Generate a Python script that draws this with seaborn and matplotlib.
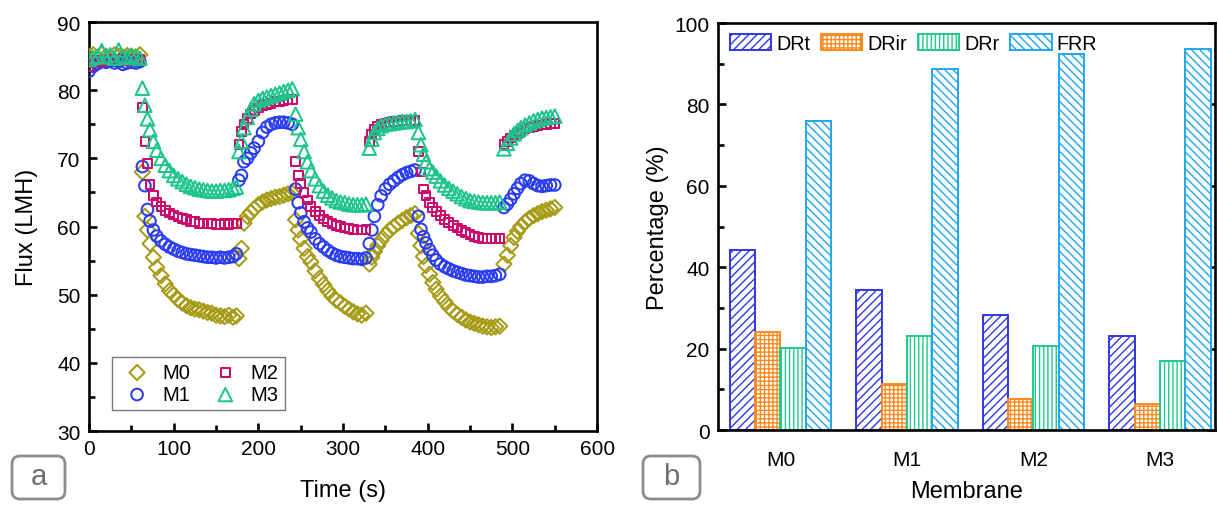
import matplotlib
matplotlib.use("Agg")
import matplotlib.pyplot as plt
from matplotlib.patches import FancyBboxPatch
from matplotlib.ticker import MultipleLocator
import numpy as np
import pandas as pd
import seaborn as sns

# ---------------- flux data (panel a) ----------------
time_s = [
    0, 5, 10, 15, 20, 25, 30, 35, 40, 45, 50, 55, 60,
    63, 66, 69, 72, 76, 80, 85, 90, 95, 100, 105, 110, 115, 120, 125, 130, 135, 140,
    145, 150, 155, 160, 165, 170, 174,
    177, 180, 183, 187, 191, 195, 200, 205, 210, 215, 220, 225, 230, 235, 240,
    244, 247, 250, 254, 258, 262, 267, 272, 277, 282, 287, 292, 297, 302, 307, 312,
    317, 322, 327,
    331, 334, 337, 341, 345, 350, 355, 360, 365, 370, 375, 380, 385,
    389, 392, 395, 398, 402, 406, 410, 415, 420, 425, 430, 435, 440, 445, 450, 455,
    460, 465, 470, 475, 480, 485,
    490, 494, 498, 502, 506, 510, 515, 520, 525, 530, 535, 540, 545, 550,
]

flux_m0 = [
    85.0, 85.2, 84.8, 85.3, 85.0, 84.9, 85.2, 85.0, 84.8, 85.1, 85.0, 84.9, 85.2,
    68.0, 61.5, 59.5, 57.5, 55.5, 54.0, 52.8, 51.6, 50.6, 50.0, 49.3, 48.8, 48.4, 48.1,
    47.9, 47.8, 47.6, 47.4, 47.3, 47.0, 46.9, 46.8, 47.0, 46.7, 46.9,
    55.3, 56.8, 60.5, 61.5, 62.1, 62.6, 63.2, 63.6, 63.9, 64.1, 64.3, 64.4, 64.6, 64.8, 64.9,
    61.0, 59.5, 58.2, 56.8, 55.6, 54.8, 53.5, 52.4, 51.5, 50.6, 49.8, 49.2, 48.8, 48.3,
    47.9, 47.5, 47.2, 47.0, 47.3,
    54.5, 55.5, 56.3, 57.2, 58.0, 58.8, 59.5, 60.0, 60.5, 60.9, 61.3, 61.6, 61.9,
    59.0, 57.2, 55.6, 54.3, 53.0, 51.8, 50.8, 49.8, 49.0, 48.2, 47.6, 47.1, 46.7, 46.3,
    46.0, 45.8, 45.6, 45.4, 45.3, 45.2, 45.3, 45.4,
    54.5, 55.8, 57.2, 58.4, 59.3, 60.0, 60.7, 61.2, 61.6, 61.9, 62.2, 62.4, 62.6, 62.8,
]

flux_m1 = [
    82.8, 83.5, 83.9, 84.2, 84.1, 84.3, 84.0, 84.2, 83.8, 84.0, 84.1, 84.0, 84.2,
    68.8, 66.0, 62.5, 60.8, 59.5, 58.6, 57.9, 57.4, 57.0, 56.7, 56.4, 56.2, 56.0, 55.9,
    55.8, 55.7, 55.6, 55.5, 55.5, 55.4, 55.5, 55.4, 55.5, 55.6, 56.0,
    66.8, 67.5, 69.5, 70.0, 70.8, 71.5, 72.5, 73.8, 74.6, 75.0, 75.2, 75.3, 75.3, 75.2, 75.0,
    65.5, 63.5, 62.0, 60.7, 59.8, 59.2, 58.2, 57.5, 57.0, 56.5, 56.1, 55.8, 55.6, 55.5,
    55.4, 55.3, 55.3, 55.2, 55.4,
    57.5, 59.5, 61.5, 63.2, 64.5, 65.5, 66.2, 66.7, 67.2, 67.6, 67.9, 68.1, 68.3,
    61.5, 59.6, 58.5, 57.6, 56.6, 55.8, 55.1, 54.5, 54.1, 53.8, 53.5, 53.3, 53.1, 52.9,
    52.8, 52.7, 52.6, 52.6, 52.7, 52.7, 52.8, 53.0,
    62.8, 63.3, 64.0, 64.8, 65.6, 66.3, 66.8, 66.7, 66.3, 66.0, 65.9, 66.0, 66.1, 66.1,
]

flux_m2 = [
    83.5, 84.0, 84.3, 84.2, 84.4, 84.5, 84.3, 84.4, 84.6, 84.4, 84.5, 84.3, 84.5,
    77.5, 72.5, 69.3, 66.2, 64.6, 63.6, 62.9, 62.4, 62.0, 61.7, 61.4, 61.2, 61.0, 60.8,
    60.7, 60.5, 60.5, 60.4, 60.4, 60.3, 60.3, 60.4, 60.3, 60.4, 60.5,
    72.0, 74.0, 75.0, 75.8, 76.5, 77.0, 77.4, 77.7, 77.9, 78.1, 78.3, 78.4, 78.5, 78.6, 78.6,
    69.5, 67.5, 66.3, 65.0, 63.9, 63.0, 62.2, 61.6, 61.1, 60.7, 60.4, 60.2, 60.0, 59.8,
    59.7, 59.6, 59.5, 59.5, 59.6,
    72.5, 73.5, 74.2, 74.7, 75.0, 75.2, 75.3, 75.4, 75.4, 75.5, 75.5, 75.6, 75.6,
    71.0, 68.0, 65.5, 64.5, 63.5, 62.8, 62.2, 61.6, 61.0, 60.6, 60.2, 59.8, 59.4, 59.1,
    58.8, 58.6, 58.4, 58.3, 58.2, 58.2, 58.2, 58.3,
    72.0, 72.5, 73.0, 73.4, 73.7, 74.0, 74.3, 74.5, 74.7, 74.8, 74.9, 75.0, 75.1, 75.1,
]

flux_m3 = [
    84.5, 84.8, 85.0, 85.8, 84.9, 85.2, 84.7, 85.9, 85.0, 84.8, 85.1, 84.9, 84.7,
    80.3, 77.8, 75.8, 74.2, 72.5, 71.2, 70.0, 69.0, 68.2, 67.5, 67.0, 66.6, 66.2, 65.9,
    65.7, 65.5, 65.4, 65.3, 65.2, 65.2, 65.3, 65.3, 65.4, 65.6, 65.8,
    71.0, 72.5, 74.5, 76.0, 77.2, 78.0, 78.5, 78.8, 79.0, 79.2, 79.4, 79.6, 79.8, 80.0, 80.2,
    76.5, 74.5, 72.8, 71.0, 69.5, 68.2, 67.0, 66.0, 65.2, 64.6, 64.2, 63.8, 63.6, 63.5,
    63.3, 63.2, 63.2, 63.2, 63.3,
    71.5, 72.8, 73.8, 74.4, 74.8, 75.0, 75.1, 75.2, 75.3, 75.4, 75.4, 75.5, 75.7,
    73.8, 72.0, 70.6, 69.5, 68.5, 68.0, 67.4, 66.7, 66.1, 65.6, 65.2, 64.8, 64.4, 64.1,
    63.8, 63.7, 63.6, 63.5, 63.5, 63.5, 63.5, 63.6,
    71.4, 72.2, 73.0, 73.6, 74.1, 74.5, 74.9, 75.2, 75.5, 75.7, 75.9, 76.0, 76.1, 76.2,
]

series_names = ["M0", "M1", "M2", "M3"]
series_markers = ["D", "o", "s", "^"]
series_sizes = [60, 70, 40, 95]
series_colors = ["#A69B16", "#2A3CF2", "#CC0A6E", "#1DC48C"]

# ---------------- ratio data (panel b) ----------------
membranes = ["M0", "M1", "M2", "M3"]
metrics = ["DRt", "DRir", "DRr", "FRR"]
drt = [44.2, 34.3, 28.3, 23.2]
drir = [24.1, 11.3, 7.6, 6.3]
drr = [20.1, 23.0, 20.7, 16.9]
frr = [75.9, 88.7, 92.4, 93.7]
metric_colors = ["#3236E6", "#FF8A1F", "#1ECB8A", "#1FA6F2"]
metric_hatches = ["////", "++++", "||||", "\\\\\\\\"]

# ---------------- style ----------------
sns.set_style("ticks")
plt.rcParams["font.family"] = ["Liberation Sans", "DejaVu Sans"]
plt.rcParams["hatch.linewidth"] = 1.0
plt.rcParams["axes.linewidth"] = 1.9
for key in ("text.color", "axes.labelcolor", "xtick.color", "ytick.color",
            "axes.edgecolor"):
    plt.rcParams[key] = "black"

fig = plt.figure(figsize=(12.18, 5.06), dpi=100)
ax1 = fig.add_axes([0.0731, 0.146, 0.4171, 0.8085])
ax2 = fig.add_axes([0.5895, 0.148, 0.4080, 0.8045])

# ---------------- panel a: flux vs time ----------------
flux_table = pd.DataFrame({"Time": time_s, "M0": flux_m0, "M1": flux_m1,
                           "M2": flux_m2, "M3": flux_m3})
for name, mk, size, col in zip(series_names, series_markers, series_sizes,
                               series_colors):
    sns.scatterplot(data=flux_table, x="Time", y=name, marker=mk, s=size,
                    facecolor="none", edgecolor=col, linewidth=1.45,
                    label=name, ax=ax1, zorder=3)

ax1.set_xlim(0, 600)
ax1.set_ylim(30, 90)
ax1.xaxis.set_major_locator(MultipleLocator(100))
ax1.xaxis.set_minor_locator(MultipleLocator(50))
ax1.yaxis.set_major_locator(MultipleLocator(10))
ax1.yaxis.set_minor_locator(MultipleLocator(5))
ax1.tick_params(which="both", direction="in", labelsize=15, width=1.9,
                top=False, right=False, pad=6)
ax1.tick_params(which="major", length=6)
ax1.tick_params(which="minor", length=4)
ax1.set_xlabel("Time (s)", fontsize=17, labelpad=15)
ax1.set_ylabel("Flux (LMH)", fontsize=17, labelpad=14)
for sp in ax1.spines.values():
    sp.set_visible(True)
    sp.set_linewidth(1.9)

leg1 = ax1.legend(ncol=2, loc="lower left", bbox_to_anchor=(0.045, 0.052),
                  fontsize=14.5, frameon=True, fancybox=False, edgecolor="#555555",
                  handletextpad=0.3, columnspacing=0.8, labelspacing=0.15,
                  borderpad=0.3, handlelength=1.9, borderaxespad=0)
leg1.get_frame().set_linewidth(1.0)

# ---------------- panel b: grouped bars ----------------
ratio_table = pd.DataFrame({
    "Membrane": np.repeat(membranes, len(metrics)),
    "Metric": metrics * len(membranes),
    "Percentage": [v for row in zip(drt, drir, drr, frr) for v in row],
})
sns.barplot(data=ratio_table, x="Membrane", y="Percentage", hue="Metric",
            hue_order=metrics, order=membranes, width=0.8, ax=ax2,
            errorbar=None, legend=True)

for container, col, hatch in zip(ax2.containers, metric_colors, metric_hatches):
    for bar in container:
        bar.set_facecolor("white")
        bar.set_edgecolor(col)
        bar.set_hatch(hatch)
        bar.set_linewidth(1.4)

ax2.set_xlim(-0.494, 3.435)
ax2.set_ylim(0, 100)
ax2.yaxis.set_major_locator(MultipleLocator(20))
ax2.yaxis.set_minor_locator(MultipleLocator(10))
ax2.tick_params(axis="y", which="both", direction="in", labelsize=15, width=1.9,
                right=True, pad=6)
ax2.tick_params(axis="y", which="major", length=6)
ax2.tick_params(axis="y", which="minor", length=4, right=False)
ax2.tick_params(axis="x", length=0, labelsize=15, pad=14)
ax2.set_xlabel("Membrane", fontsize=17, labelpad=8)
ax2.set_ylabel("Percentage (%)", fontsize=17, labelpad=4)
for sp in ax2.spines.values():
    sp.set_visible(True)
    sp.set_linewidth(1.9)

handles, labels = ax2.get_legend_handles_labels()
for h, col, hatch in zip(handles, metric_colors, metric_hatches):
    h.set_facecolor("white")
    h.set_edgecolor(col)
    h.set_hatch(hatch)
    h.set_linewidth(1.4)
ax2.legend(handles, labels, ncol=4, loc="upper left", bbox_to_anchor=(0.002, 1.0),
           frameon=False, fontsize=14.2, handlelength=2.1, handleheight=0.8,
           handletextpad=0.25, columnspacing=0.55, borderaxespad=0.15)

# ---------------- panel tags ----------------
for x0, w, letter in ((0.12, 0.53, "a"), (6.43, 0.57, "b")):
    fig.patches.append(FancyBboxPatch(
        (x0, 0.06), w, 0.43, boxstyle="round,pad=0,rounding_size=0.08",
        transform=fig.dpi_scale_trans, facecolor="white",
        edgecolor="#8c8c8c", linewidth=2))
    fig.text(x0 + w / 2, 0.285, letter, fontsize=21, color="#6f6f6f",
             ha="center", va="center", transform=fig.dpi_scale_trans)

fig.savefig("out.png", dpi=100)
